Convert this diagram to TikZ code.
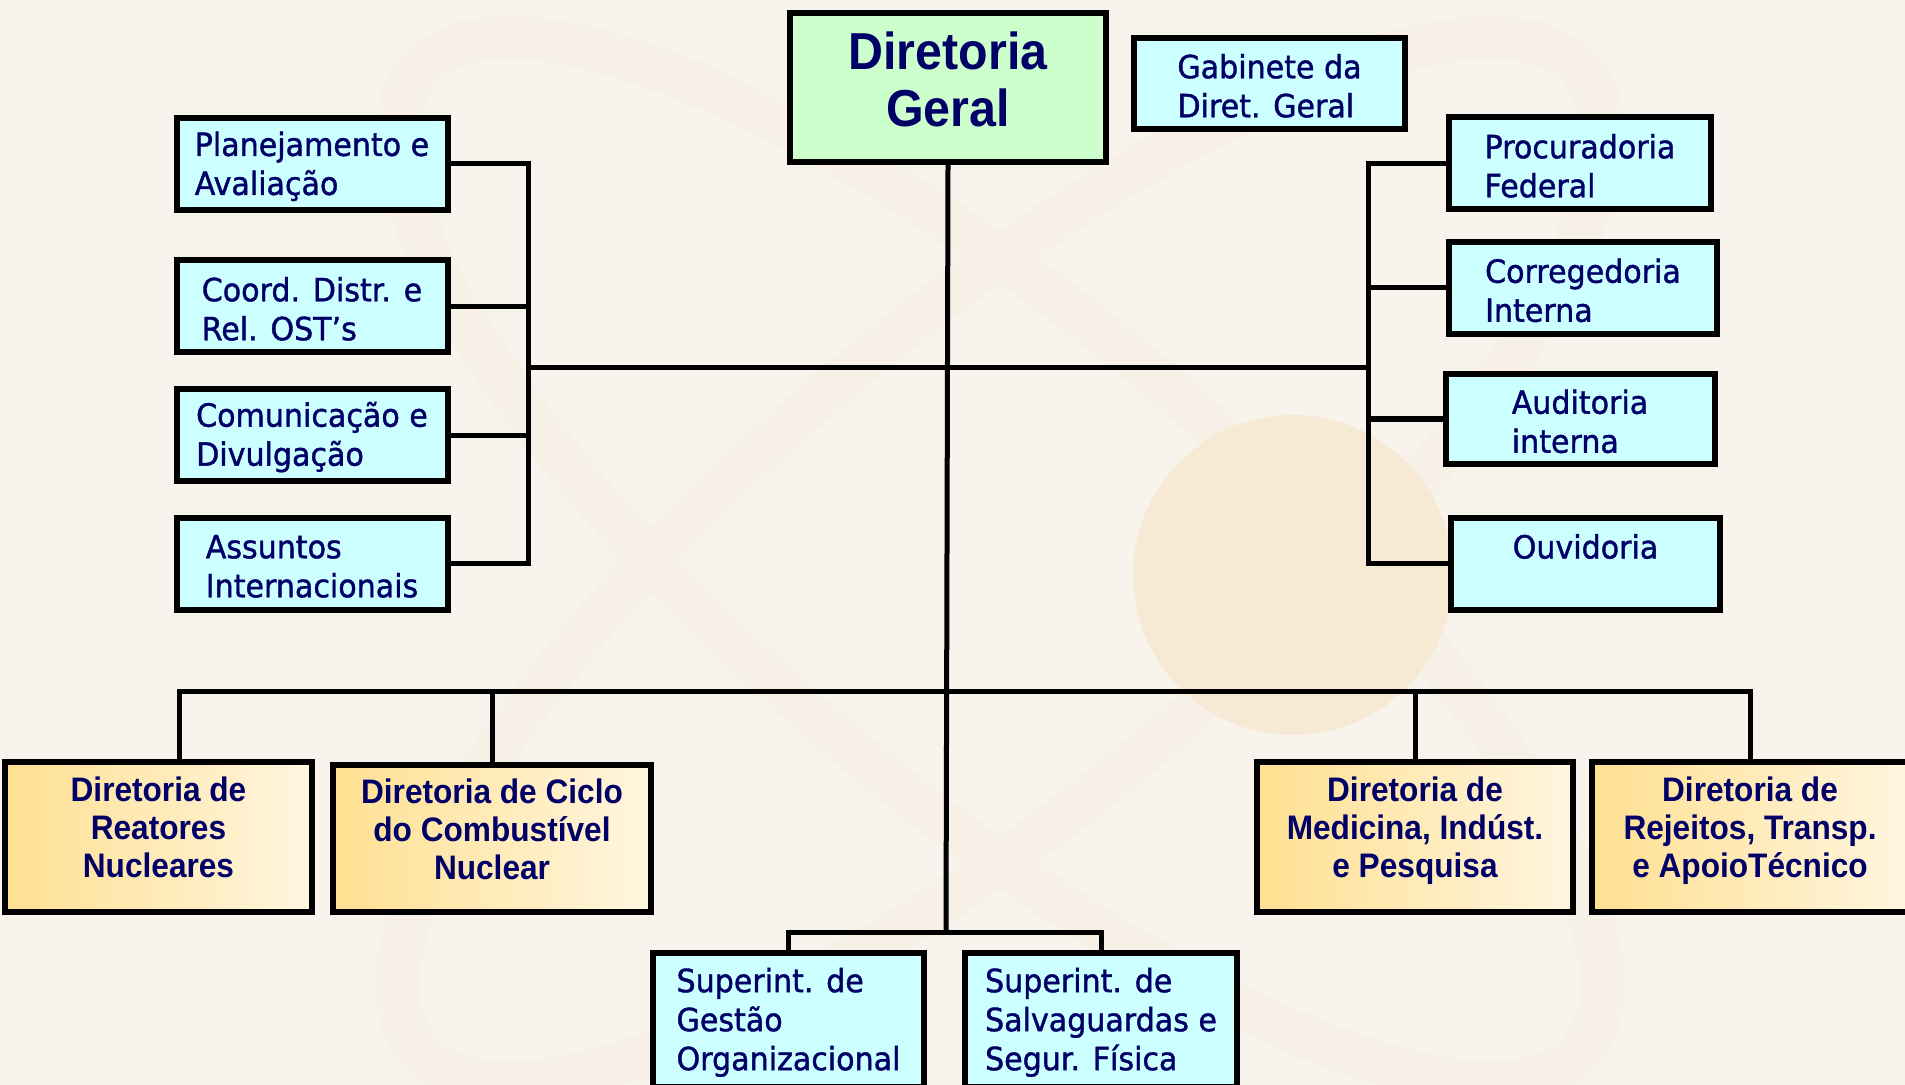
\documentclass[tikz,border=0pt]{standalone}
\usepackage{fontspec}
\newfontfamily\caixafont[FakeStretch=0.94,FakeBold=1.2]{DejaVu Sans}
\newfontfamily\diretfont[FakeStretch=0.93]{Liberation Sans}
\definecolor{fundo}{RGB}{248,244,237}
\definecolor{mancha}{RGB}{247,234,213}
\definecolor{orbita}{RGB}{246,240,230}
\definecolor{azul}{RGB}{0,0,102}
\definecolor{ciano}{RGB}{204,255,255}
\definecolor{verde}{RGB}{204,255,204}
\definecolor{laranja1}{RGB}{255,224,145}
\definecolor{laranja2}{RGB}{255,246,224}

\begin{document}
\begin{tikzpicture}[x=0.5pt,y=-0.5pt]

% Estilos
\tikzstyle{caixa} 	=	[rectangle, draw, line width=3pt, fill=ciano, text=azul, align=left, inner sep=0pt, minimum width=135.5pt, minimum height=46pt, text height=34pt, font=\caixafont\fontsize{16}{19.5}\selectfont]
\tikzstyle{diretoria} 	=	[rectangle, draw, line width=3pt, left color=laranja1, right color=laranja2, text=azul, align=center, inner sep=0pt, minimum width=158pt, minimum height=75pt, text depth=9.5pt, font=\diretfont\bfseries\fontsize{17}{19}\selectfont]
\tikzstyle{topo} 	=	[rectangle, draw, line width=3pt, fill=verde, text=azul, align=center, inner sep=0pt, minimum width=158pt, minimum height=74.5pt, text depth=8pt, font=\diretfont\bfseries\fontsize{26}{28.5}\selectfont]
\tikzstyle{linha} 	=	[line width=2.5pt]

	% Fundo
	\useasboundingbox (0,0) rectangle (1905,1085);
	\clip (0,0) rectangle (1905,1085);
	\fill[fundo] (0,0) rectangle (1905,1085);
	\draw[orbita, line width=22pt, rotate around={40:(1000,560)}] (1000,560) ellipse [x radius=380pt, y radius=120pt];
	\draw[orbita, line width=22pt, rotate around={-40:(1000,560)}] (1000,560) ellipse [x radius=380pt, y radius=120pt];
	\fill[mancha] (1293,575) circle [radius=80pt];

	% Diretoria geral
	\node[topo]	(geral)	at (948,87.5)	{Diretoria\\Geral};
	\node[caixa, minimum height=45.5pt] (gab) at (1269.5,83.5) {Gabinete da\\Diret. Geral};

	% Lado esquerdo
	\node[caixa]	(plan)	at (312,164)	{Planejamento e\\Avaliação};
	\node[caixa]	(coord)	[below of=plan, node distance=71.25pt]	{Coord. Distr. e\\Rel. OST’s};
	\node[caixa]	(comun)	[below of=coord, node distance=64.25pt]	{Comunicação e\\Divulgação};
	\node[caixa]	(assun)	[below of=comun, node distance=64.25pt]	{Assuntos\\Internacionais};

	% Lado direito
	\node[caixa, minimum width=131pt]	(procur)	at (1580,163.5)	{Procuradoria\\Federal};
	\node[caixa, minimum width=134pt, xshift=1.5pt]	(correg)	[below of=procur, node distance=62.25pt]	{Corregedoria\\Interna};
	\node[caixa, minimum width=134.5pt, minimum height=45pt]	(audit)	[below of=procur, node distance=127.75pt]	{Auditoria\\interna};
	\node[caixa, minimum width=134.5pt, xshift=2.75pt]	(ouvid)	[below of=audit, node distance=72.25pt]	{Ouvidoria\\\mbox{}};

	% Diretorias
	\node[diretoria, minimum width=153.5pt]	(reat)	at (158.5,837)	{Diretoria de\\Reatores\\Nucleares};
	\node[diretoria, minimum width=159pt, minimum height=73.5pt, yshift=-0.75pt]	(ciclo)	[right of=reat, node distance=166.75pt]	{Diretoria de Ciclo\\do Combustível\\Nuclear};
	\node[diretoria]	(medic)	at (1415,837)	{Diretoria de\\Medicina, Indúst.\\e Pesquisa};
	\node[diretoria]	(rejeit)	[right of=medic, node distance=167.5pt]	{Diretoria de\\Rejeitos, Transp.\\e ApoioTécnico};

	% Superintendencias
	\node[caixa, minimum height=67pt, text height=53.5pt]	(gest)	at (788.5,1020)	{Superint. de\\Gestão\\Organizacional};
	\node[caixa, minimum width=136pt, minimum height=67pt, text height=53.5pt]	(salv)	[right of=gest, node distance=156.25pt]	{Superint. de\\Salvaguardas e\\Segur. Física};

	% Ligacoes
	\coordinate (esq) at (528,368);
	\coordinate (dir) at (1368,368);
	\coordinate (barra) at (179,691);
	\coordinate (baixo) at (946,932);

	\draw[linha] (plan.east) -| (esq) |- (assun.east);
	\draw[linha] (coord.east) -- (coord.east -| esq);
	\draw[linha] (comun.east) -- (comun.east -| esq);
	\draw[linha] (esq) -- (dir);
	\draw[linha] (procur.west) -| (dir) |- (ouvid.west);
	\draw[linha] (correg.west) -- (correg.west -| dir);
	\draw[linha] (audit.west) -- (audit.west -| dir);

	\draw[linha] (geral.south) -- (baixo);
	\draw[linha] (reat.north -| barra) -- (barra) -- (barra -| rejeit.north) -- (rejeit.north);
	\draw[linha] (ciclo.north) -- (ciclo.north |- barra);
	\draw[linha] (medic.north) -- (medic.north |- barra);
	\draw[linha] (gest.north) |- (baixo) -| (salv.north);

\end{tikzpicture}
\end{document}
